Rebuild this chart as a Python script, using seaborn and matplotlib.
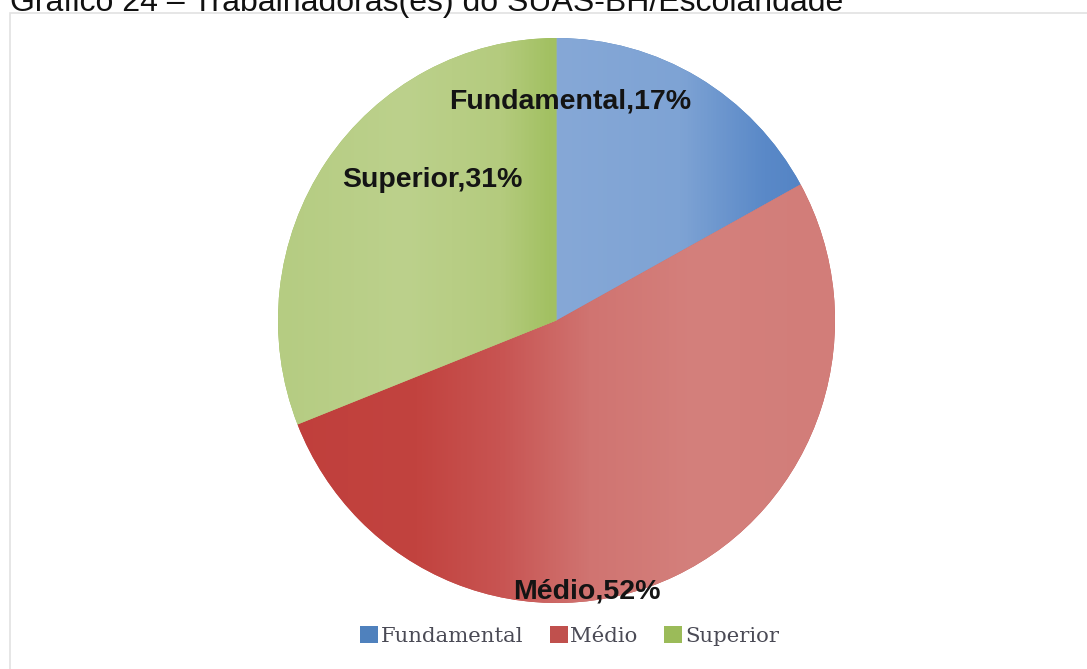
import numpy as np
import matplotlib
matplotlib.use("Agg")
import matplotlib.pyplot as plt
import seaborn as sns
from matplotlib.colors import LinearSegmentedColormap
from matplotlib.patches import Rectangle

# ---- data ----
categories = ["Fundamental", "Médio", "Superior"]
shares = [17, 52, 31]
label_texts = ["Fundamental,17%", "Médio,52%", "Superior,31%"]
title = "Gráfico 24 – Trabalhadoras(es) do SUAS-BH/Escolaridade"

# ---- style ----
sns.set_theme(style="white")
plt.rcParams["font.family"] = ["Liberation Sans", "DejaVu Sans"]

base_colors = ["#4F81BD", "#C0504D", "#9BBB59"]
# horizontal gradient stops (x in pie data coords, colour)
gradients = [
    [(-1.0, "#88AAD8"), (0.0, "#86A8D7"), (0.45, "#7EA3D4"), (0.75, "#5A89C8"), (1.0, "#4F80C2")],
    [(-1.0, "#C03F3C"), (-0.5, "#C2433F"), (-0.2, "#C85452"), (0.12, "#D07471"), (0.5, "#D4807C"), (1.0, "#D27D79")],
    [(-1.0, "#B5CC82"), (-0.55, "#BCD18C"), (-0.2, "#B4CB7E"), (-0.03, "#A3C163"), (1.0, "#9DBD5C")],
]

W, H = 1087, 669
fig = plt.figure(figsize=(W / 100, H / 100), dpi=100)
fig.patch.set_facecolor("white")

# chart frame
fig.add_artist(Rectangle((10 / W, -0.01), 1.02, 1 - 13 / H + 0.01, transform=fig.transFigure,
                         facecolor="white", edgecolor="#E2E2E2", linewidth=1.2, zorder=0))

# pie axes
cx, cy, rx, ry = 556.5, 320.5, 278.5, 282.5
ax = fig.add_axes([(cx - rx) / W, (H - cy - ry) / H, 2 * rx / W, 2 * ry / H])
wedges, _ = ax.pie(shares, colors=base_colors, startangle=90, counterclock=False,
                   radius=1, wedgeprops=dict(linewidth=0))

xs = np.linspace(-1, 1, 400)
for w, stops in zip(wedges, gradients):
    pos = [(p + 1) / 2 for p, _ in stops]
    cols = [c for _, c in stops]
    cmap = LinearSegmentedColormap.from_list("g", list(zip(pos, cols)))
    arr = np.tile(xs, (50, 1))
    im = ax.imshow(arr, extent=[-1, 1, -1, 1], cmap=cmap, vmin=-1, vmax=1,
                   aspect="auto", origin="lower", zorder=2, interpolation="bilinear")
    im.set_clip_path(w)

ax.set_xlim(-1, 1)
ax.set_ylim(-1, 1)
ax.set_aspect("auto")
ax.axis("off")

# data labels (positions in pie radius units)
label_pos = [(0.05, 0.75), (0.11, -0.985), (-0.445, 0.472)]
for txt, (lx, ly) in zip(label_texts, label_pos):
    ax.text(lx, ly, txt, ha="center", va="baseline", fontsize=20.5,
            fontweight="bold", color="#141414", zorder=5,
            family=["Liberation Sans", "DejaVu Sans"])

# legend
leg = fig.legend(wedges, categories, loc="center", ncol=3, frameon=False,
                 bbox_to_anchor=(569.5 / W, 1 - 636 / H),
                 prop={"family": "DejaVu Serif", "size": 15.3},
                 handlelength=0.85, handleheight=0.85, handletextpad=0.12,
                 columnspacing=1.25, borderaxespad=0)
for t in leg.get_texts():
    t.set_color("#4A4A55")

# title (cropped at top as in the reference)
fig.text(10 / W, 1 - 11 / H, title, ha="left", va="baseline", fontsize=23,
         color="#111111", family=["Liberation Sans", "DejaVu Sans"])

fig.savefig("out.png", dpi=100, facecolor="white")
